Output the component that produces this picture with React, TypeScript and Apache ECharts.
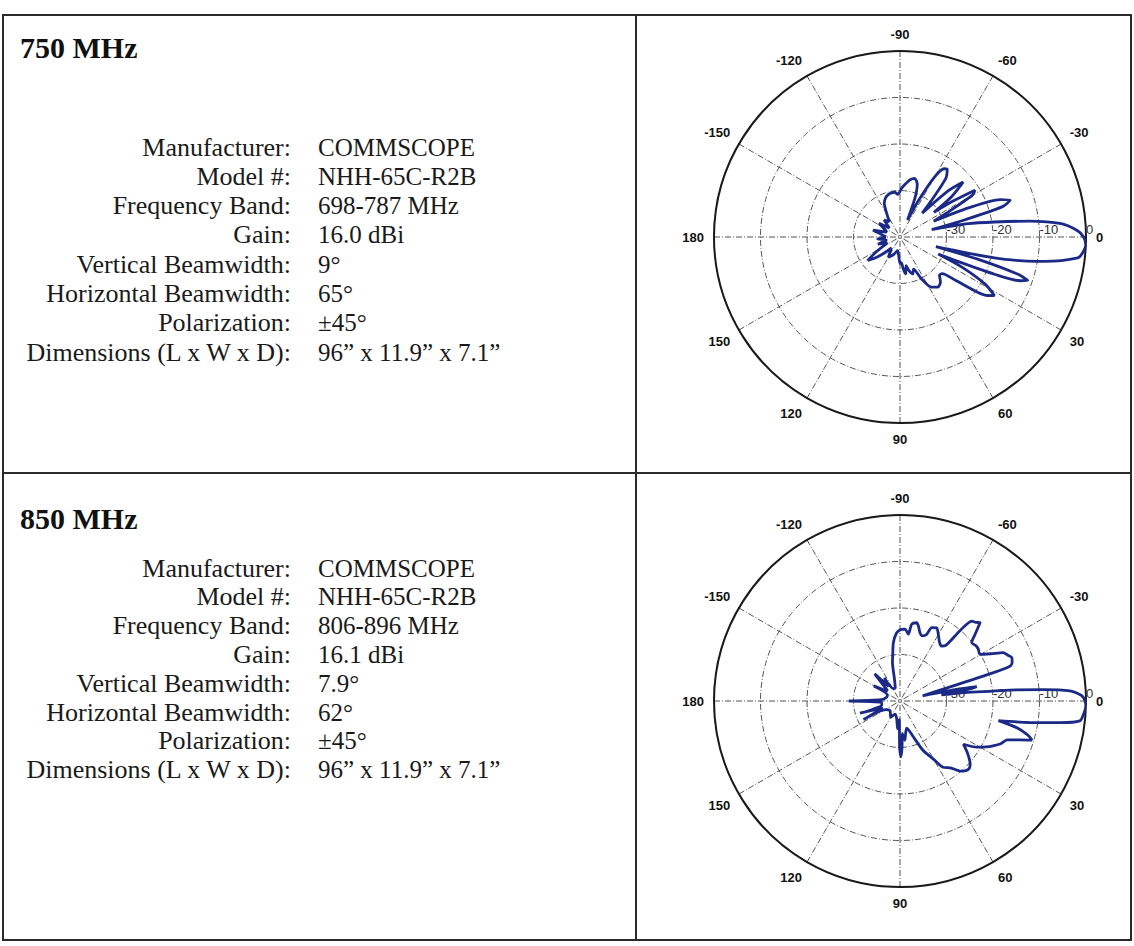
import React, { useEffect, useRef } from 'react';
import * as echarts from 'echarts';

// ---------- Data ----------
const specLabels = [
  'Manufacturer:',
  'Model #:',
  'Frequency Band:',
  'Gain:',
  'Vertical Beamwidth:',
  'Horizontal Beamwidth:',
  'Polarization:',
  'Dimensions (L x W x D):',
];
const specValues750 = ['COMMSCOPE', 'NHH-65C-R2B', '698-787 MHz', '16.0 dBi', '9°', '65°', '±45°', '96” x 11.9” x 7.1”'];
const specValues850 = ['COMMSCOPE', 'NHH-65C-R2B', '806-896 MHz', '16.1 dBi', '7.9°', '62°', '±45°', '96” x 11.9” x 7.1”'];
const titles = ['750 MHz', '850 MHz'];

// Horizontal pattern, 750 MHz: angle (deg) and relative gain (dB)
const angle750 = [-180, -172, -166, -160, -152, -147, -140, -133, -125, -118, -115, -110, -105, -100, -97, -93, -88, -84, -80, -76, -72, -69, -66, -63, -60, -57, -55, -52, -49, -47, -44, -41, -38, -36, -34, -32, -30, -27, -25, -23, -20.5, -18.5, -16.5, -14.5, -13, -11, -9, -7, -4.7, -2, 0, 2.5, 5, 6.7, 9.6, 11, 12.5, 14, 15, 16, 17.5, 18.8, 20, 21.5, 23, 24, 26, 29, 31.8, 34, 35.8, 38, 41, 44, 48, 53, 58, 63, 67, 71, 75, 78, 81, 84, 87, 90, 94, 100, 110, 120, 128, 135, 140, 144, 148, 155, 162, 168, 175, 180];
const gain750 = [-37, -36, -34, -37, -36, -34.6, -37, -35, -36, -33.5, -32, -31, -30.5, -30.3, -30.3, -30.8, -29.5, -28.5, -27.5, -27, -28, -31, -36, -31, -25, -22.5, -22.3, -24, -30, -33, -26, -22, -26, -31, -26, -21, -22, -29, -32, -24, -17, -15, -17, -27, -33, -25, -19.4, -12, -5.2, -1.8, -0.5, 0, -0.6, -1.5, -8.5, -13, -19.2, -28.7, -32, -22, -13.5, -11, -12.5, -18, -27, -31, -25, -19, -16.1, -17.5, -20.3, -25, -28, -28.2, -27, -26.5, -27.3, -30, -32.5, -31.6, -32.5, -33.7, -32, -33, -34.5, -34.3, -36, -37, -36, -35, -37, -35, -33, -31.4, -34, -37, -35, -37, -35.2, -37];

// Horizontal pattern, 850 MHz
const angle850 = [-180, -176, -165, -155, -150, -145, -140, -133, -128, -124, -118, -110, -104, -101, -99,
  -96.5, -92.8, -89, -86, -82.9, -81.3, -78, -76, -73.7, -71, -68.2, -66.6, -63.4, -60, -56, -53, -50.5, -49.5, -48.1, -46, -44.4, -41.6, -39.2, -36, -33.4, -30.3, -27.5, -25.1, -23, -21.2, -19, -17.6, -16.8, -15.5, -13, -11.5, -10.6, -9.8, -8.5, -7.5, -6.1, -5.5, -4.5, -3.4, -2, -1, 0, 1.5, 4, 6.3, 7.7, 9.5, 11.3, 13, 15, 16.5, 18, 20, 23, 25.7, 28, 31, 34.3, 38, 42, 45, 49, 53, 57, 60, 65, 70, 76, 80, 83, 86, 87.5, 89, 90.5, 92, 95, 100, 110, 120, 135, 148, 153, 158, 163, 168, 176, 180];
const gain850 = [-29, -36, -37, -37, -33.5, -36, -36.5, -32, -36, -34, -37, -37, -35, -31.5, -30,
  -27.4, -25.3, -24.6, -24.5, -25.5, -23.3, -22.8, -23.5, -24.7, -25.2, -24.6, -22.8, -22.4, -23.5, -24.8, -25.2, -24.5, -20, -16.9, -16.5, -15.9, -18.4, -20.1, -19.8, -19.8, -20.1, -18, -15.5, -14.8, -14.2, -14.5, -15.2, -20, -30, -35, -27, -23.2, -25, -31, -26, -20, -15, -9, -3.4, -1.2, -0.5, -0.2, 0, -0.4, -1.1, -5.3, -12, -18.4, -14, -11.5, -10.4, -13, -15.5, -16.5, -17.8, -19, -20.7, -23.5, -21.5, -19.7, -19.2, -20, -22, -23, -25.5, -28.3, -32, -34, -33, -31.5, -33, -30, -28, -30, -36, -34, -36, -37, -36, -37, -36.5, -31.2, -36, -31, -36, -36, -29];

const radiusMin = -40;
const radiusMax = 0;
const radiusStep = 10;
const angleStep = 30;

// ---------- Helpers ----------
const toPolarData = (angles: number[], gains: number[]) =>
  angles.map((a, i) => [gains[i], a < 0 ? a + 360 : a]);

const angleLabel = (v: number) => {
  const a = v > 180 ? v - 360 : v;
  return String(a);
};
const radiusLabel = (v: number) => (v === radiusMin ? '' : String(v));

const SERIF = '"Liberation Serif", "Times New Roman", serif';
const SANS = '"Liberation Sans", Arial, sans-serif';

function textBlock(titleY: number, title: string, values: string[], rowStart: number, rowStep: number) {
  const els: any[] = [];
  els.push({
    type: 'text',
    style: {
      text: title, x: 20, y: titleY, font: `bold 30px ${SERIF}`, fill: '#111',
      textAlign: 'left', textVerticalAlign: 'middle', align: 'left', verticalAlign: 'middle',
    },
  });
  specLabels.forEach((lab, i) => {
    const y = rowStart + i * rowStep;
    els.push({
      type: 'text',
      style: {
        text: lab, x: 291, y, font: `26px ${SERIF}`, fill: '#1a1a1a',
        textAlign: 'right', textVerticalAlign: 'middle', align: 'right', verticalAlign: 'middle',
      },
    });
    els.push({
      type: 'text',
      style: {
        text: values[i], x: 318, y, font: `25px ${SERIF}`, fill: '#1a1a1a',
        textAlign: 'left', textVerticalAlign: 'middle', align: 'left', verticalAlign: 'middle',
      },
    });
  });
  return els;
}

export default function App() {
  const ref = useRef<HTMLDivElement>(null);

  useEffect(() => {
    if (!ref.current) return;
    const chart = echarts.init(ref.current, null, { renderer: 'svg' });

    const gridLine = { color: '#555', type: [6, 2, 1, 2], width: 1 };

    const angleAxisFor = (i: number) => ({
      polarIndex: i,
      type: 'value',
      min: 0,
      max: 360,
      interval: angleStep,
      startAngle: 0,
      clockwise: true,
      axisLine: { show: true, lineStyle: { color: '#1a1a1a', width: 2 } },
      axisTick: { show: false },
      axisLabel: {
        margin: 10,
        fontFamily: SANS,
        fontWeight: 'bold',
        fontSize: 13,
        color: '#111',
        formatter: angleLabel,
      },
      splitLine: { show: true, lineStyle: gridLine },
    });

    const radiusAxisFor = (i: number) => ({
      polarIndex: i,
      type: 'value',
      min: radiusMin,
      max: radiusMax,
      interval: radiusStep,
      axisLine: { show: false },
      axisTick: { show: false },
      axisLabel: {
        formatter: radiusLabel,
        fontSize: 13,
        margin: 1,
        align: 'left',
        color: '#333',
        fontFamily: SANS,
      },
      splitLine: { show: true, lineStyle: gridLine },
    });

    const lineSeries = (i: number, data: number[][]) => ({
      type: 'line',
      coordinateSystem: 'polar',
      polarIndex: i,
      data,
      symbol: 'none',
      showSymbol: false,
      smooth: 0.25,
      lineStyle: { color: '#1b2a86', width: 2.8 },
      z: 5,
    });

    const graphics: any[] = [
      {
        type: 'rect',
        shape: { x: 3, y: 15, width: 1128, height: 925 },
        style: { fill: 'none', stroke: '#2b2b2b', lineWidth: 2 },
      },
      { type: 'line', shape: { x1: 636, y1: 15, x2: 636, y2: 940 }, style: { stroke: '#2b2b2b', lineWidth: 2 } },
      { type: 'line', shape: { x1: 3, y1: 473, x2: 1131, y2: 473 }, style: { stroke: '#2b2b2b', lineWidth: 2 } },
      ...textBlock(47, titles[0], specValues750, 147, 29.3),
      ...textBlock(518, titles[1], specValues850, 568, 28.8),
    ];

    chart.setOption({
      animation: false,
      backgroundColor: '#ffffff',
      polar: [
        { center: [900, 237], radius: 186 },
        { center: [900, 701], radius: 186 },
      ],
      angleAxis: [angleAxisFor(0), angleAxisFor(1)],
      radiusAxis: [radiusAxisFor(0), radiusAxisFor(1)],
      series: [lineSeries(0, toPolarData(angle750, gain750)), lineSeries(1, toPolarData(angle850, gain850))],
      graphic: graphics,
    });

    return () => chart.dispose();
  }, []);

  return (
    <div
      ref={ref}
      style={{ position: 'absolute', left: 0, top: 0, width: 1134, height: 946, background: '#fff' }}
    />
  );
}
